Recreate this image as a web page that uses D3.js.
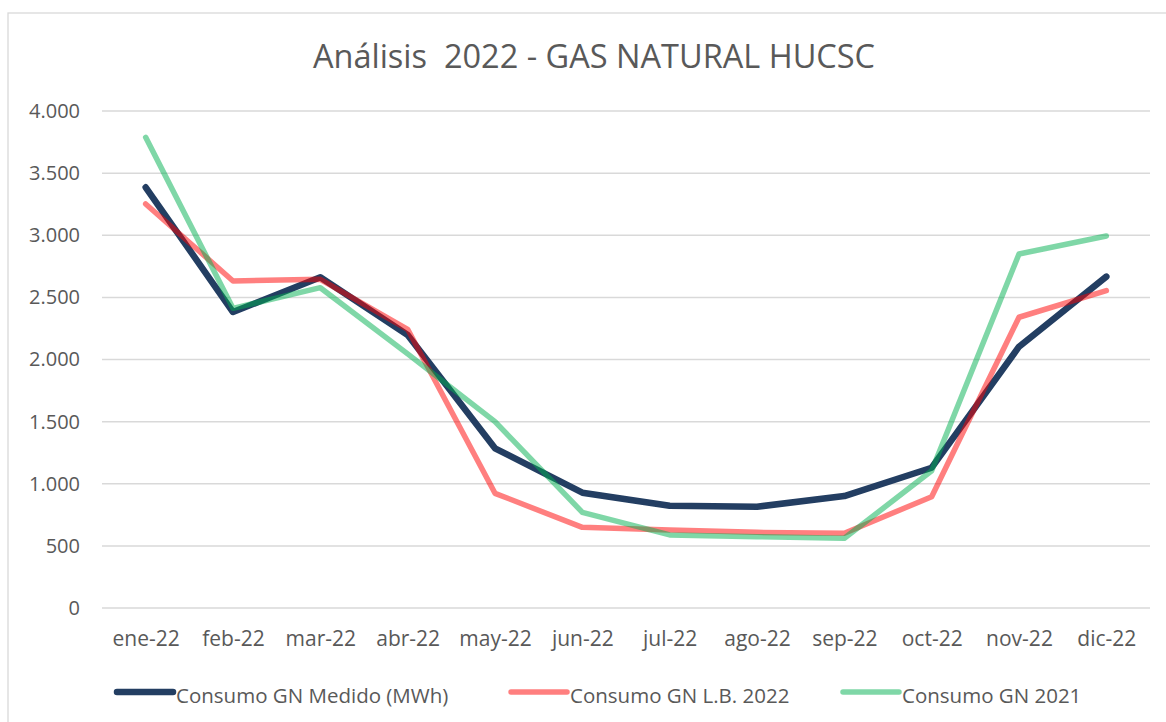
<!DOCTYPE html>
<html><head><meta charset="utf-8">
<script src="https://cdn.jsdelivr.net/npm/d3@7"></script>
<style>html,body{margin:0;padding:0;background:#fff;}svg{display:block;}</style>
</head><body>
<script>
const categories = ["ene-22","feb-22","mar-22","abr-22","may-22","jun-22","jul-22","ago-22","sep-22","oct-22","nov-22","dic-22"];
const medido = [3386, 2382, 2662, 2197, 1285, 928, 823, 815, 901, 1129, 2103, 2667];
const lb2022 = [3252, 2632, 2645, 2243, 923, 649, 628, 609, 601, 896, 2340, 2554];
const gn2021 = [3788, 2412, 2578, 2045, 1500, 770, 588, 574, 561, 1105, 2849, 2994];
const yTicks = [0, 500, 1000, 1500, 2000, 2500, 3000, 3500, 4000];
const seriesNames = ["Consumo GN Medido (MWh)", "Consumo GN L.B. 2022", "Consumo GN 2021"];

(function () {
const W = 1166, H = 722;
const font = "'Open Sans', Lato, sans-serif";
const svg = d3.select("body").append("svg").attr("width", W).attr("height", H);
svg.append("rect").attr("x", 8).attr("y", 13).attr("width", 1200).attr("height", 800)
  .attr("fill", "#fff").attr("stroke", "#D9D9D9").attr("stroke-width", 1.3);

const pL = 102, pR = 1150, pT = 111, pB = 608;
const x = d3.scalePoint().domain(categories).range([pL, pR]).padding(0.5);
const y = d3.scaleLinear().domain([0, 4000]).range([pB, pT]);

svg.append("g").selectAll("line").data(yTicks).join("line")
  .attr("x1", pL).attr("x2", pR).attr("y1", d => y(d)).attr("y2", d => y(d))
  .attr("stroke", "#D9D9D9").attr("stroke-width", 1.5);

const fmt = d => d3.format(",")(d).replace(/,/g, ".");
const yAxis = svg.append("g").attr("transform", `translate(${pL},0)`)
  .call(d3.axisLeft(y).tickValues(yTicks).tickFormat(fmt).tickSize(0).tickPadding(22));
yAxis.select(".domain").remove();
yAxis.selectAll("text").attr("font-family", font).attr("font-size", 20).attr("fill", "#595959");

const xAxis = svg.append("g").attr("transform", `translate(0,${pB})`)
  .call(d3.axisBottom(x).tickSize(0).tickPadding(23));
xAxis.select(".domain").remove();
xAxis.selectAll("text").attr("font-family", font).attr("font-size", 21).attr("fill", "#595959");

const line = d3.line().x((d, i) => x(categories[i])).y(d => y(d));
const series = [
  {vals: medido, color: "#233E62", op: 1, w: 6.5},
  {vals: lb2022, color: "#FF0000", op: 0.5, w: 5.5},
  {vals: gn2021, color: "#00B050", op: 0.5, w: 5.5}
];
series.forEach(s => {
  svg.append("path").attr("d", line(s.vals)).attr("fill", "none")
    .attr("stroke", s.color).attr("stroke-opacity", s.op).attr("stroke-width", s.w)
    .attr("stroke-linecap", "round").attr("stroke-linejoin", "round");
});

svg.append("text").attr("x", 594).attr("y", 68).attr("text-anchor", "middle")
  .attr("font-family", font).attr("font-size", 32.5).attr("fill", "#595959")
  .style("white-space", "pre")
  .text("Análisis  2022 - GAS NATURAL HUCSC");

const legX = [117, 511, 843];
series.forEach((s, i) => {
  svg.append("line").attr("x1", legX[i]).attr("x2", legX[i] + 56).attr("y1", 692).attr("y2", 692)
    .attr("stroke", s.color).attr("stroke-opacity", s.op).attr("stroke-width", s.w)
    .attr("stroke-linecap", "round");
  svg.append("text").attr("x", legX[i] + 59).attr("y", 703)
    .attr("font-family", font).attr("font-size", 20.5).attr("fill", "#595959").text(seriesNames[i]);
});
})();
</script>
</body></html>
